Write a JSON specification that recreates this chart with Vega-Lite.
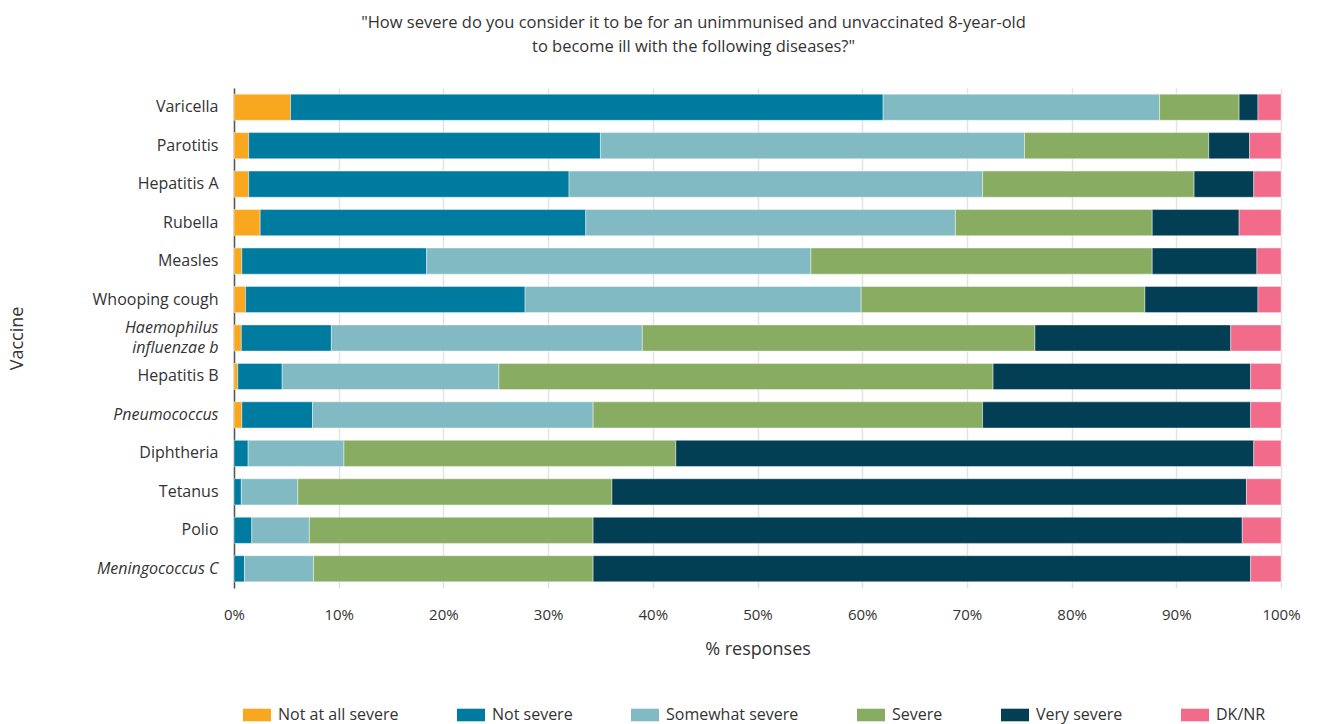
{
  "$schema": "https://vega.github.io/schema/vega-lite/v6.json",
  "width": 1047,
  "height": 500,
  "autosize": {"type": "none"},
  "padding": {"left": 234, "top": 88, "right": 38, "bottom": 136},
  "background": "white",
  "config": {"view": {"stroke": null}, "font": "Open Sans"},
  "title": {
    "text": ["\"How severe do you consider it to be for an unimmunised and unvaccinated 8-year-old", "to become ill with the following diseases?\""],
    "anchor": "middle",
    "frame": "group",
    "dx": -64,
    "offset": 33,
    "fontSize": 16.5,
    "fontWeight": "normal",
    "font": "Open Sans",
    "color": "#333333",
    "lineHeight": 24
  },
  "data": {
    "values": [
      {"vaccine": "Varicella", "response": "Not at all severe", "pct": 5.4},
      {"vaccine": "Varicella", "response": "Not severe", "pct": 56.6},
      {"vaccine": "Varicella", "response": "Somewhat severe", "pct": 26.4},
      {"vaccine": "Varicella", "response": "Severe", "pct": 7.6},
      {"vaccine": "Varicella", "response": "Very severe", "pct": 1.8},
      {"vaccine": "Varicella", "response": "DK/NR", "pct": 2.2},
      {"vaccine": "Parotitis", "response": "Not at all severe", "pct": 1.4},
      {"vaccine": "Parotitis", "response": "Not severe", "pct": 33.6},
      {"vaccine": "Parotitis", "response": "Somewhat severe", "pct": 40.5},
      {"vaccine": "Parotitis", "response": "Severe", "pct": 17.6},
      {"vaccine": "Parotitis", "response": "Very severe", "pct": 3.9},
      {"vaccine": "Parotitis", "response": "DK/NR", "pct": 3.0},
      {"vaccine": "Hepatitis A", "response": "Not at all severe", "pct": 1.4},
      {"vaccine": "Hepatitis A", "response": "Not severe", "pct": 30.6},
      {"vaccine": "Hepatitis A", "response": "Somewhat severe", "pct": 39.5},
      {"vaccine": "Hepatitis A", "response": "Severe", "pct": 20.2},
      {"vaccine": "Hepatitis A", "response": "Very severe", "pct": 5.7},
      {"vaccine": "Hepatitis A", "response": "DK/NR", "pct": 2.6},
      {"vaccine": "Rubella", "response": "Not at all severe", "pct": 2.5},
      {"vaccine": "Rubella", "response": "Not severe", "pct": 31.1},
      {"vaccine": "Rubella", "response": "Somewhat severe", "pct": 35.3},
      {"vaccine": "Rubella", "response": "Severe", "pct": 18.8},
      {"vaccine": "Rubella", "response": "Very severe", "pct": 8.3},
      {"vaccine": "Rubella", "response": "DK/NR", "pct": 4.0},
      {"vaccine": "Measles", "response": "Not at all severe", "pct": 0.75},
      {"vaccine": "Measles", "response": "Not severe", "pct": 17.65},
      {"vaccine": "Measles", "response": "Somewhat severe", "pct": 36.7},
      {"vaccine": "Measles", "response": "Severe", "pct": 32.6},
      {"vaccine": "Measles", "response": "Very severe", "pct": 10.0},
      {"vaccine": "Measles", "response": "DK/NR", "pct": 2.3},
      {"vaccine": "Whooping cough", "response": "Not at all severe", "pct": 1.1},
      {"vaccine": "Whooping cough", "response": "Not severe", "pct": 26.7},
      {"vaccine": "Whooping cough", "response": "Somewhat severe", "pct": 32.1},
      {"vaccine": "Whooping cough", "response": "Severe", "pct": 27.1},
      {"vaccine": "Whooping cough", "response": "Very severe", "pct": 10.8},
      {"vaccine": "Whooping cough", "response": "DK/NR", "pct": 2.2},
      {"vaccine": "Haemophilus influenzae b", "response": "Not at all severe", "pct": 0.7},
      {"vaccine": "Haemophilus influenzae b", "response": "Not severe", "pct": 8.6},
      {"vaccine": "Haemophilus influenzae b", "response": "Somewhat severe", "pct": 29.7},
      {"vaccine": "Haemophilus influenzae b", "response": "Severe", "pct": 37.5},
      {"vaccine": "Haemophilus influenzae b", "response": "Very severe", "pct": 18.7},
      {"vaccine": "Haemophilus influenzae b", "response": "DK/NR", "pct": 4.8},
      {"vaccine": "Hepatitis B", "response": "Not at all severe", "pct": 0.36},
      {"vaccine": "Hepatitis B", "response": "Not severe", "pct": 4.24},
      {"vaccine": "Hepatitis B", "response": "Somewhat severe", "pct": 20.7},
      {"vaccine": "Hepatitis B", "response": "Severe", "pct": 47.2},
      {"vaccine": "Hepatitis B", "response": "Very severe", "pct": 24.6},
      {"vaccine": "Hepatitis B", "response": "DK/NR", "pct": 2.9},
      {"vaccine": "Pneumococcus", "response": "Not at all severe", "pct": 0.75},
      {"vaccine": "Pneumococcus", "response": "Not severe", "pct": 6.75},
      {"vaccine": "Pneumococcus", "response": "Somewhat severe", "pct": 26.8},
      {"vaccine": "Pneumococcus", "response": "Severe", "pct": 37.2},
      {"vaccine": "Pneumococcus", "response": "Very severe", "pct": 25.6},
      {"vaccine": "Pneumococcus", "response": "DK/NR", "pct": 2.9},
      {"vaccine": "Diphtheria", "response": "Not severe", "pct": 1.35},
      {"vaccine": "Diphtheria", "response": "Somewhat severe", "pct": 9.15},
      {"vaccine": "Diphtheria", "response": "Severe", "pct": 31.7},
      {"vaccine": "Diphtheria", "response": "Very severe", "pct": 55.2},
      {"vaccine": "Diphtheria", "response": "DK/NR", "pct": 2.6},
      {"vaccine": "Tetanus", "response": "Not severe", "pct": 0.7},
      {"vaccine": "Tetanus", "response": "Somewhat severe", "pct": 5.4},
      {"vaccine": "Tetanus", "response": "Severe", "pct": 30.0},
      {"vaccine": "Tetanus", "response": "Very severe", "pct": 60.6},
      {"vaccine": "Tetanus", "response": "DK/NR", "pct": 3.3},
      {"vaccine": "Polio", "response": "Not severe", "pct": 1.7},
      {"vaccine": "Polio", "response": "Somewhat severe", "pct": 5.5},
      {"vaccine": "Polio", "response": "Severe", "pct": 27.1},
      {"vaccine": "Polio", "response": "Very severe", "pct": 62.0},
      {"vaccine": "Polio", "response": "DK/NR", "pct": 3.7},
      {"vaccine": "Meningococcus C", "response": "Not severe", "pct": 1.0},
      {"vaccine": "Meningococcus C", "response": "Somewhat severe", "pct": 6.6},
      {"vaccine": "Meningococcus C", "response": "Severe", "pct": 26.7},
      {"vaccine": "Meningococcus C", "response": "Very severe", "pct": 62.8},
      {"vaccine": "Meningococcus C", "response": "DK/NR", "pct": 2.9}
    ]
  },
  "transform": [
    {"calculate": "indexof(['Not at all severe', 'Not severe', 'Somewhat severe', 'Severe', 'Very severe', 'DK/NR'], datum.response)", "as": "stackRank"}
  ],
  "mark": {"type": "bar", "stroke": "white", "strokeWidth": 0.6, "strokeOpacity": 0.7},
  "encoding": {
    "y": {
      "field": "vaccine",
      "type": "nominal",
      "sort": ["Varicella", "Parotitis", "Hepatitis A", "Rubella", "Measles", "Whooping cough", "Haemophilus influenzae b", "Hepatitis B", "Pneumococcus", "Diphtheria", "Tetanus", "Polio", "Meningococcus C"],
      "scale": {"paddingInner": 0.32, "paddingOuter": 0.16},
      "axis": {
        "title": "Vaccine",
        "titleFontSize": 18,
        "titleFontWeight": "normal",
        "titleColor": "#333333",
        "titleFont": "Open Sans",
        "titlePadding": 66,
        "labelFont": "Open Sans",
        "labelFontSize": 16,
        "labelColor": "#333333",
        "labelPadding": 16,
        "labelLineHeight": 20,
        "labelExpr": "datum.value == 'Haemophilus influenzae b' ? ['Haemophilus', 'influenzae b'] : datum.value",
        "labelOffset": {
          "condition": {"test": "datum.value == 'Haemophilus influenzae b'", "value": -10},
          "value": 0
        },
        "labelFontStyle": {
          "condition": {"test": "datum.value == 'Haemophilus influenzae b' || datum.value == 'Pneumococcus' || datum.value == 'Meningococcus C'", "value": "italic"},
          "value": "normal"
        },
        "ticks": false,
        "domain": true,
        "domainColor": "#555555",
        "domainWidth": 1.5,
        "grid": false
      }
    },
    "x": {
      "field": "pct",
      "type": "quantitative",
      "stack": "zero",
      "scale": {"domain": [0, 100], "nice": false},
      "axis": {
        "title": "% responses",
        "titleFontSize": 18,
        "titleFontWeight": "normal",
        "titleColor": "#333333",
        "titleFont": "Open Sans",
        "titlePadding": 18,
        "values": [0, 10, 20, 30, 40, 50, 60, 70, 80, 90, 100],
        "labelExpr": "datum.value + '%'",
        "labelFont": "Open Sans",
        "labelFontSize": 15,
        "labelColor": "#333333",
        "labelPadding": 19,
        "labelFlush": false,
        "ticks": false,
        "domain": false,
        "grid": true,
        "gridColor": "#e3e3e3",
        "gridWidth": 1.5
      }
    },
    "order": {"field": "stackRank", "type": "quantitative", "sort": "ascending"},
    "color": {
      "field": "response",
      "type": "nominal",
      "sort": ["Not at all severe", "Not severe", "Somewhat severe", "Severe", "Very severe", "DK/NR"],
      "scale": {
        "domain": ["Not at all severe", "Not severe", "Somewhat severe", "Severe", "Very severe", "DK/NR"],
        "range": ["#F9A71E", "#007BA0", "#81BAC3", "#88AD62", "#023E54", "#F26B8B"]
      },
      "legend": {
        "title": null,
        "orient": "none",
        "legendX": 9,
        "legendY": 613,
        "direction": "horizontal",
        "symbolType": "M-1,-0.45H1V0.45H-1Z",
        "symbolSize": 784,
        "symbolStrokeWidth": 0,
        "symbolOpacity": 1,
        "labelFont": "Open Sans",
        "labelFontSize": 16,
        "labelColor": "#333333",
        "labelOffset": 7,
        "columnPadding": 58
      }
    }
  }
}
